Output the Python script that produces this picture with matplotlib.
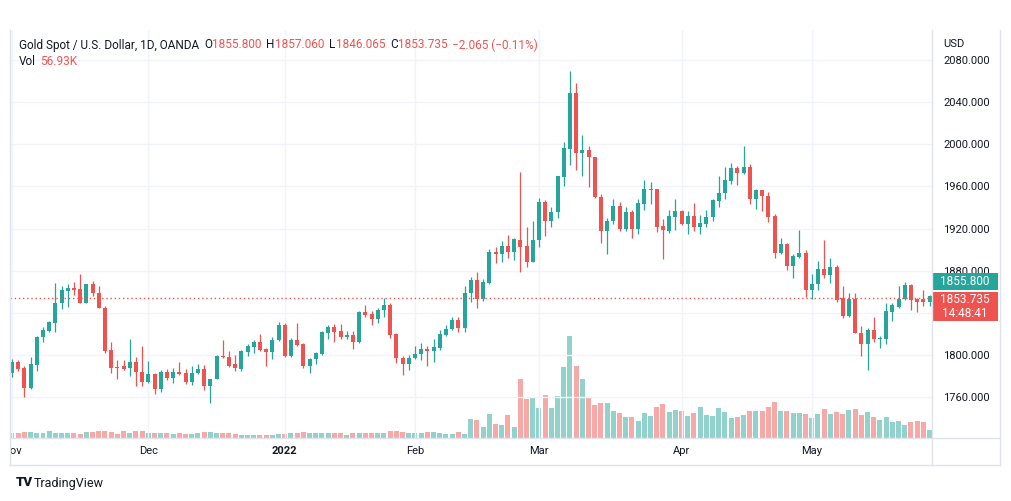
import numpy as np
import pandas as pd
import matplotlib

matplotlib.use("Agg")
import matplotlib.pyplot as plt
from matplotlib.lines import Line2D
from matplotlib.patches import Rectangle
from matplotlib.transforms import Bbox, TransformedBbox

UP = "#26a69a"
DOWN = "#ef5350"
UP_VOL = "#92d2cc"
DOWN_VOL = "#f7a9a7"
TEXT = "#131722"
GRID = "#f0f3fa"
BORDER = "#e0e3eb"

W, H = 1012, 501

# ---- data: daily bars, Nov 1 2021 .. May 27 2022 (Dec 24 closed) ----
dates = pd.bdate_range("2021-11-01", "2022-05-27").drop(pd.Timestamp("2021-12-24"))

opens = [1782.5, 1793, 1788, 1769, 1790, 1817, 1823, 1830.6, 1849, 1861,
         1864, 1862.6, 1849.6, 1867, 1858.5, 1845, 1804.6, 1788.5, 1789, 1788,
         1793, 1784, 1774, 1781.5, 1768, 1783.5, 1778, 1783.5, 1782.5, 1774.5,
         1782.5, 1786.6, 1770, 1777, 1799, 1797.6, 1791, 1787, 1803, 1807.7,
         1812.5, 1806, 1803, 1814, 1828, 1799, 1814, 1810, 1789.4, 1795.7,
         1801, 1821, 1826.7, 1822.7, 1817, 1819, 1812.5, 1841, 1839, 1834,
         1842.6, 1847, 1820, 1797, 1791, 1797, 1801, 1806, 1804, 1807,
         1819, 1825, 1833, 1826, 1858.5, 1871, 1852.7, 1868, 1897.5, 1895.6,
         1903, 1897.5, 1909, 1903, 1888.5, 1909, 1945.5, 1927.3, 1935.3, 1969,
         1995.5, 2049, 1991.4, 1995, 1987.6, 1949.5, 1917.6, 1927.4, 1941, 1919.5,
         1936, 1919.5, 1943, 1957, 1957.5, 1922.4, 1918, 1931, 1936.6, 1924,
         1932, 1921.7, 1924, 1930.6, 1946.5, 1953.4, 1965.4, 1977, 1972.4, 1978,
         1948.5, 1956.5, 1950.7, 1932, 1897, 1905.3, 1884.6, 1893.2, 1896.4, 1861.6,
         1867, 1881.5, 1876, 1883.7, 1853.7, 1837, 1853, 1821, 1810, 1824,
         1815, 1815, 1841, 1845.7, 1852.8, 1866.4, 1853, 1853, 1850.6]
closes = [1793.5, 1787, 1769, 1791, 1817, 1823.6, 1831, 1849, 1861.6, 1864,
          1862, 1849.6, 1867, 1858.5, 1845, 1804, 1788, 1788, 1787, 1793,
          1784, 1774, 1781.5, 1768, 1783.5, 1778, 1783.5, 1782, 1774.5, 1782.5,
          1786.6, 1770, 1777, 1799, 1797.6, 1789, 1788, 1804, 1808.4, 1812.5,
          1804.6, 1803, 1814, 1828, 1799, 1814, 1809, 1789.4, 1795.7, 1801.5,
          1822, 1826.7, 1822, 1817, 1819, 1812.5, 1841, 1838, 1834, 1842.6,
          1847, 1819, 1797, 1791, 1797, 1801, 1806, 1804, 1807.7, 1820,
          1825, 1833, 1826, 1858.5, 1871, 1852.7, 1869, 1898, 1895.5, 1903,
          1897.5, 1909.7, 1902.7, 1888.5, 1909, 1945.5, 1927.3, 1936, 1969.9, 1996,
          2049, 1991.4, 1995, 1987.6, 1949.5, 1917.6, 1927.4, 1941, 1919.5, 1935.4,
          1919.5, 1944.7, 1957.5, 1957.5, 1921.7, 1918.6, 1932, 1936.6, 1924, 1932,
          1921.7, 1925, 1930.6, 1947, 1954, 1966, 1977, 1972.4, 1978, 1948.5,
          1956.5, 1951, 1931, 1897, 1905, 1884.6, 1893.9, 1896.4, 1862, 1867,
          1881.5, 1876, 1883.7, 1852, 1837, 1853, 1821, 1810, 1824, 1814.7,
          1815.6, 1842, 1847, 1853, 1866.4, 1852, 1850, 1850.6, 1855.8]
highs = [1796, 1795.6, 1789, 1798, 1818, 1826.5, 1832, 1868.5, 1865, 1867.5,
         1869.5, 1877, 1867.5, 1870, 1865, 1846, 1812.5, 1795.6, 1795, 1815,
         1798, 1808, 1794, 1782.5, 1786, 1786.5, 1788, 1793.5, 1786.5, 1789,
         1791, 1790.5, 1777.5, 1799.5, 1814, 1804, 1800, 1805, 1810, 1814,
         1820, 1807, 1817, 1831, 1830, 1816.5, 1830, 1811, 1797, 1803,
         1823, 1828, 1829, 1829, 1823, 1823, 1842, 1847, 1842, 1845,
         1854, 1849, 1821, 1799, 1800, 1808, 1811, 1808, 1815, 1824,
         1828, 1836, 1836, 1865, 1874, 1878.4, 1872, 1900.5, 1902.7, 1908,
         1914, 1911, 1974, 1921, 1927.3, 1949, 1947, 1940, 1970, 2002,
         2069.6, 2057.8, 2008.8, 1998, 1988, 1953, 1929.6, 1948.5, 1945.5, 1940.7,
         1938, 1948, 1966, 1963.8, 1958, 1928.6, 1938, 1948.5, 1938, 1937,
         1944.5, 1933, 1937.6, 1948, 1970, 1978, 1981.8, 1979, 1998.4, 1981,
         1958, 1957, 1955, 1934, 1910.7, 1906, 1896, 1919, 1900, 1876.8,
         1889, 1909, 1892, 1885, 1865.4, 1859, 1858.5, 1827.4, 1826, 1835.6,
         1818, 1849.5, 1849.5, 1865.4, 1869.5, 1867, 1854, 1861.6, 1857]
lows = [1779, 1785, 1760, 1768, 1785, 1812, 1822, 1822, 1843.5, 1845.7,
        1857, 1849, 1849, 1856, 1845, 1802, 1782.5, 1777, 1786, 1780,
        1770, 1770, 1773, 1762.5, 1765, 1776, 1773, 1781, 1772, 1771,
        1782, 1767, 1754, 1777, 1797, 1788.5, 1784.7, 1785, 1799, 1802,
        1804, 1789, 1796, 1813, 1798, 1798, 1808, 1788, 1783, 1791,
        1800, 1815, 1812.5, 1815, 1815, 1806, 1811, 1836, 1828, 1830,
        1836, 1815.6, 1792, 1781, 1786, 1796, 1795, 1789, 1793.5, 1805,
        1818, 1824, 1822, 1821.5, 1850.5, 1845, 1851, 1867, 1887, 1888,
        1891.7, 1890, 1878.4, 1883, 1888, 1902, 1913, 1921.7, 1929.7, 1960.6,
        1980, 1976, 1970, 1959, 1949, 1906.5, 1895.5, 1924, 1918, 1918,
        1910.7, 1915, 1937.6, 1943, 1917, 1890.7, 1916, 1918.6, 1923, 1915,
        1918, 1915, 1921, 1927, 1940, 1948.5, 1962, 1961.3, 1972, 1943.3,
        1939, 1937, 1926.5, 1891.7, 1896, 1881, 1872.7, 1892, 1854.7, 1852.8,
        1861.6, 1872.7, 1868, 1850.5, 1835, 1836, 1821, 1799, 1786, 1812.5,
        1807, 1810, 1832, 1845, 1852, 1842.6, 1841, 1846, 1846]
# volume, thousands
volumes = [35, 35, 42, 42, 35, 32, 46, 35, 35, 32,
           35, 28, 39, 39, 46, 46, 39, 25, 46, 35,
           49, 46, 35, 35, 32, 32, 28, 32, 28, 25,
           32, 39, 39, 35, 32, 32, 28, 21, 21, 21,
           21, 21, 21, 25, 28, 32, 32, 39, 35, 35,
           35, 32, 32, 35, 21, 32, 35, 32, 32, 32,
           35, 46, 46, 42, 32, 32, 32, 39, 39, 35,
           25, 25, 39, 28, 131, 124, 77, 170, 100, 89,
           163, 77, 411, 271, 280, 210, 299, 210, 294, 497,
           712, 504, 411, 289, 233, 247, 247, 191, 177, 149,
           149, 121, 177, 156, 219, 238, 184, 198, 191, 156,
           177, 215, 163, 156, 208, 184, 138, 145, 163, 187,
           187, 187, 215, 250, 191, 191, 177, 173, 168, 140,
           168, 205, 168, 182, 168, 198, 205, 163, 182, 147,
           128, 147, 114, 121, 93, 110, 121, 114, 57]

price_ticks = [1760, 1800, 1840, 1880, 1920, 1960, 2000, 2040, 2080]
last_price = 1853.735
prev_label = 1855.800


def fx(px):
    return px / W


def fy(py):
    return 1 - py / H


def build():
    plt.rcParams["font.family"] = ["Roboto", "DejaVu Sans"]
    fig = plt.figure(figsize=(W / 100, H / 100), dpi=100, facecolor="white")

    # plot pane: x 10..932 px, y 30..438 px
    rect = [fx(10), fy(438), fx(932) - fx(10), fy(30) - fy(438)]
    n = len(dates)
    x = np.arange(n)
    o = np.array(opens)
    c = np.array(closes)
    up = c >= o

    # volume underneath
    axv = fig.add_axes(rect)
    axv.bar(x, volumes, width=0.8, color=np.where(up, UP_VOL, DOWN_VOL), lw=0)
    axv.set_xlim(-0.32, 148.4)
    axv.set_ylim(0, 408 * 7.0)
    axv.axis("off")

    ax = fig.add_axes(rect)
    ax.patch.set_visible(False)
    ax.set_xlim(-0.32, 148.4)
    ax.set_ylim(1721.1, 2108.5)

    colors = np.where(up, UP, DOWN)
    ax.vlines(x, lows, highs, colors=colors, lw=0.9, zorder=3)
    body = np.maximum(np.abs(c - o), 0.9)
    ax.bar(x, body, bottom=np.minimum(o, c), width=0.64, color=colors, lw=0,
           zorder=4)

    ax.axhline(last_price, color=DOWN, lw=1, ls=(0, (1, 2)), zorder=5)

    # month ticks at the first bar of each month
    months = dates.to_period("M")
    starts = [0] + [i for i in range(1, n) if months[i] != months[i - 1]]
    labels = []
    for i in starts:
        d = dates[i]
        labels.append(str(d.year) if d.month == 1 else d.strftime("%b"))
    ax.set_xticks(starts)
    ax.set_xticklabels(labels)
    for lab in ax.get_xticklabels():
        if lab.get_text() == "2022":
            lab.set_fontweight("bold")
        lab.set_clip_on(True)
        lab.set_clip_box(TransformedBbox(Bbox([[fx(10), 0], [fx(932), 1]]),
                                         fig.transFigure))

    ax.yaxis.tick_right()
    ax.set_yticks(price_ticks)
    ax.set_yticklabels([f"{p:.3f}" for p in price_ticks])
    ax.tick_params(axis="both", length=0, labelsize=8, labelcolor=TEXT)
    ax.tick_params(axis="y", pad=8)
    ax.tick_params(axis="x", pad=6)
    ax.grid(True, color=GRID, lw=1)
    ax.set_axisbelow(True)
    for s in ax.spines.values():
        s.set_visible(False)

    # frame lines
    for xs, ys in [((10, 10), (30, 465)), ((932, 932), (30, 465)),
                   ((1000, 1000), (30, 465)), ((10, 1000), (438, 438)),
                   ((10, 1000), (465, 465))]:
        fig.add_artist(Line2D([fx(xs[0]), fx(xs[1])], [fy(ys[0]), fy(ys[1])],
                              transform=fig.transFigure, color=BORDER, lw=1))

    # price labels on the axis
    fig.add_artist(Rectangle((fx(932), fy(290)), fx(998) - fx(932), fy(273) - fy(290),
                             transform=fig.transFigure, color=UP, lw=0))
    fig.text(fx(965), fy(281.5), f"{prev_label:.3f}", color="white", fontsize=8.5,
             ha="center", va="center")
    fig.add_artist(Rectangle((fx(932), fy(321)), fx(998) - fx(932), fy(292) - fy(321),
                             transform=fig.transFigure, color=DOWN, lw=0))
    fig.text(fx(965), fy(299.5), f"{last_price:.3f}", color="white", fontsize=8.5,
             ha="center", va="center")
    fig.text(fx(965), fy(313.5), "14:48:41", color="white", fontsize=8.5,
             ha="center", va="center")
    fig.text(fx(943), fy(44), "USD", color=TEXT, fontsize=8, ha="left", va="center")

    # legend header
    renderer = fig.canvas.get_renderer()

    def run(x0, y0, parts, size=8.5):
        xp = x0
        for s, col, gap in parts:
            t = fig.text(fx(xp), fy(y0), s, color=col, fontsize=size,
                         ha="left", va="center")
            xp += t.get_window_extent(renderer).width + gap

    run(19, 45, [("Gold Spot / U.S. Dollar, 1D, OANDA", TEXT, 5),
                 ("O", TEXT, 0), ("1855.800", DOWN, 5),
                 ("H", TEXT, 0), ("1857.060", DOWN, 5),
                 ("L", TEXT, 0), ("1846.065", DOWN, 5),
                 ("C", TEXT, 0), ("1853.735", DOWN, 5),
                 ("\u22122.065 (\u22120.11%)", DOWN, 0)])
    run(19, 62, [("Vol", TEXT, 4), ("56.93K", DOWN, 0)])

    # watermark
    fig.text(fx(16), fy(483), "TV", color=TEXT, fontsize=9.5, fontweight="heavy",
             ha="left", va="center")
    fig.text(fx(34), fy(483), "TradingView", color=TEXT, fontsize=9,
             ha="left", va="center")

    fig.savefig("out.png", dpi=100, facecolor="white")
    plt.close(fig)


if __name__ == "__main__":
    build()
